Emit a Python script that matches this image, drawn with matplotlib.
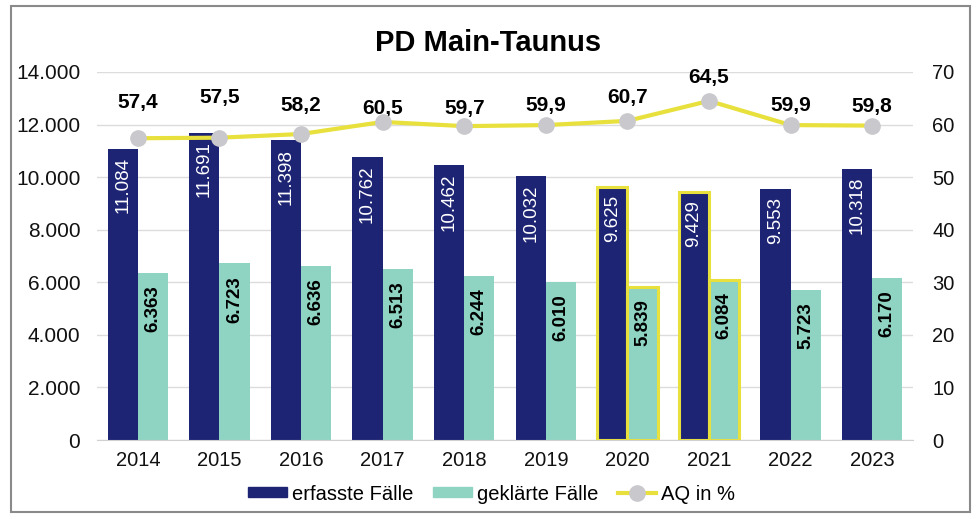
import numpy as np
import matplotlib.pyplot as plt
from matplotlib.patches import Rectangle
from matplotlib.lines import Line2D
from matplotlib.patches import Patch

plt.rcParams['font.family'] = ['Liberation Sans', 'DejaVu Sans']

years = ['2014', '2015', '2016', '2017', '2018', '2019', '2020', '2021', '2022', '2023']
erfasst = [11084, 11691, 11398, 10762, 10462, 10032, 9625, 9429, 9553, 10318]
geklaert = [6363, 6723, 6636, 6513, 6244, 6010, 5839, 6084, 5723, 6170]
aq = [57.4, 57.5, 58.2, 60.5, 59.7, 59.9, 60.7, 64.5, 59.9, 59.8]
highlight = ['2020', '2021']
# label offset above the point, in points
aq_label_dy = [19, 22, 14, 3, 6, 7, 10, 10, 7, 7]

dark = '#1e2474'
teal = '#8fd4c2'
yellow = '#e8e03c'
grey_marker = '#c9c9cd'


def fmt_de(v):
    return f'{v:,}'.replace(',', '.')


fig = plt.figure(figsize=(9.76, 5.19), dpi=100)
ax = fig.add_axes([0.0994, 0.1522, 0.8361, 0.7091])
x = np.arange(len(years))
w = 0.37

edge_d = [yellow if y in highlight else dark for y in years]
edge_t = [yellow if y in highlight else teal for y in years]
lw = [2.2 if y in highlight else 0 for y in years]

ax.bar(x - w / 2, erfasst, w, color=dark, edgecolor=edge_d, linewidth=lw, zorder=2)
ax.bar(x + w / 2, geklaert, w, color=teal, edgecolor=edge_t, linewidth=lw, zorder=2)

for xi, v in zip(x, erfasst):
    ax.annotate(fmt_de(v), (xi - w / 2, v), xytext=(0, -6), textcoords='offset points',
                rotation=90, ha='center', va='top', color='white', fontsize=13.5, zorder=3)
for xi, v in zip(x, geklaert):
    ax.annotate(fmt_de(v), (xi + w / 2, v), xytext=(0, -9), textcoords='offset points',
                rotation=90, ha='center', va='top', color='black', fontsize=13.5,
                fontweight='bold', zorder=3)

ax.set_xlim(-0.5, len(years) - 0.5)
ax.set_ylim(0, 14000)
ax.set_yticks(range(0, 14001, 2000))
ax.set_yticklabels([fmt_de(v) for v in range(0, 14001, 2000)])
ax.set_xticks(x)
ax.set_xticklabels(years)
ax.yaxis.grid(True, color='#dcdcdc', linewidth=1)
ax.set_axisbelow(True)
for s in ['top', 'right', 'left']:
    ax.spines[s].set_visible(False)
ax.spines['bottom'].set_color('#d0d0d0')
ax.tick_params(axis='both', length=0, colors='#111111')
ax.tick_params(axis='x', pad=8, labelsize=14.5)
ax.tick_params(axis='y', pad=12, labelsize=15)

ax2 = ax.twinx()
ax2.plot(x, aq, color=yellow, linewidth=3, marker='o', markersize=11,
         markerfacecolor=grey_marker, markeredgecolor=grey_marker, zorder=4)
for xi, v, dy in zip(x, aq, aq_label_dy):
    ax2.annotate(f'{v:.1f}'.replace('.', ','), (xi, v), xytext=(0, dy), textcoords='offset points',
                 ha='center', va='bottom', fontsize=15, fontweight='bold', color='black')
ax2.set_ylim(0, 70)
ax2.set_yticks(range(0, 71, 10))
for s in ['top', 'right', 'left', 'bottom']:
    ax2.spines[s].set_visible(False)
ax2.tick_params(axis='y', length=0, labelsize=14.5, colors='#111111', pad=14)

fig.text(0.5, 0.918, 'PD Main-Taunus', ha='center', va='center', fontsize=21, fontweight='bold')

handles = [Patch(color=dark, label='erfasste Fälle'),
           Patch(color=teal, label='geklärte Fälle'),
           Line2D([0], [0], color=yellow, linewidth=3, marker='o', markersize=11,
                  markerfacecolor=grey_marker, markeredgecolor=grey_marker, label='AQ in %')]
fig.legend(handles=handles, loc='center', bbox_to_anchor=(0.504, 0.048), ncol=3, frameon=False,
           fontsize=14.5, handlelength=1.9, handleheight=0.4, handletextpad=0.25,
           columnspacing=1.0)

fig.patches.append(Rectangle((0.011, 0.013), 0.983, 0.975, transform=fig.transFigure,
                             fill=False, edgecolor='#8a8a8a', linewidth=1.5))

fig.savefig('out.png', dpi=100)
